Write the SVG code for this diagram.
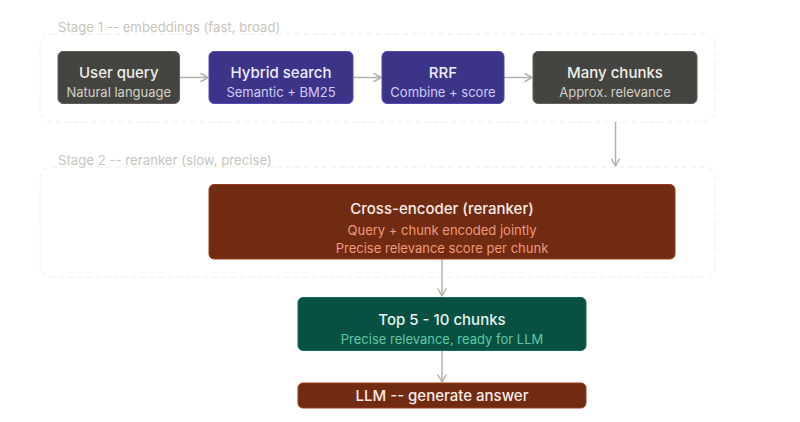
<svg xmlns="http://www.w3.org/2000/svg" width="800" height="422" viewBox="0 0 800 422">
<defs>
<marker id="arr" viewBox="0 0 10 10" refX="8" refY="5" markerWidth="10" markerHeight="10" markerUnits="userSpaceOnUse" orient="auto-start-reverse">
<path d="M1 1 L8 5 L1 9" fill="none" stroke="#b4b2a9" stroke-width="1.5" stroke-linecap="round" stroke-linejoin="round"/>
</marker>
<style>
text{font-family:Inter,"Liberation Sans",sans-serif;text-anchor:middle}
.stage{fill:none;stroke:#efeee9;stroke-width:1;stroke-dasharray:5 4}
.slab{font-size:13.2px;fill:#c8c6bd;text-anchor:start}
.t{font-size:15px;font-weight:500}
.s{font-size:13px}
.gray rect{fill:#444441;stroke:#5f5e5a}
.gray .t{fill:#f1efe8}.gray .s{fill:#d3d1c7}
.purple rect{fill:#3c3489;stroke:#534ab7}
.purple .t{fill:#eeedfe}.purple .s{fill:#cecbf6}
.brown rect{fill:#712b13;stroke:#993c1d}
.brown .t{fill:#faece7}.brown .s{fill:#f0997b}
.green rect{fill:#085041;stroke:#0f6e56}
.green .t{fill:#e1f5ee}.green .s{fill:#5dcaa5}
.conn line{stroke:#b4b2a9;stroke-width:1.5;fill:none;marker-end:url(#arr)}
</style>
</defs>
<rect width="800" height="422" fill="#ffffff"/>
<g id="stage1">
<rect class="stage" x="40" y="34" width="675" height="88" rx="12"/>
<text class="slab" x="58" y="31.5">Stage 1 -- embeddings (fast, broad)</text>
</g>
<g id="stage2">
<rect class="stage" x="40" y="167" width="675" height="110" rx="12"/>
<text class="slab" x="58" y="164.5">Stage 2 -- reranker (slow, precise)</text>
</g>
<g id="conn" class="conn">
<line x1="180" y1="77.5" x2="208" y2="77.5"/>
<line x1="353" y1="77.5" x2="381" y2="77.5"/>
<line x1="504" y1="77.5" x2="532" y2="77.5"/>
<line x1="615.5" y1="122" x2="615.5" y2="166"/>
<line x1="442" y1="259" x2="442" y2="296"/>
<line x1="442" y1="351" x2="442" y2="382"/>
</g>
<g id="user-query" class="gray">
<rect x="58" y="51.5" width="121.5" height="52" rx="5"/>
<text class="t" x="118.75" y="78">User query</text>
<text class="s" x="118.75" y="97">Natural language</text>
</g>
<g id="hybrid-search" class="purple">
<rect x="209" y="51.5" width="144" height="52" rx="5"/>
<text class="t" x="281" y="78">Hybrid search</text>
<text class="s" x="281" y="97">Semantic + BM25</text>
</g>
<g id="rrf" class="purple">
<rect x="382" y="51.5" width="122" height="52" rx="5"/>
<text class="t" x="443" y="78">RRF</text>
<text class="s" x="443" y="97">Combine + score</text>
</g>
<g id="many-chunks" class="gray">
<rect x="533" y="51.5" width="164" height="52" rx="5"/>
<text class="t" x="615" y="78">Many chunks</text>
<text class="s" x="615" y="97">Approx. relevance</text>
</g>
<g id="cross-encoder" class="brown">
<rect x="209" y="184.5" width="466" height="74.5" rx="5"/>
<text class="t" x="442" y="213.5">Cross-encoder (reranker)</text>
<text class="s" x="442" y="235">Query + chunk encoded jointly</text>
<text class="s" x="442" y="252.5">Precise relevance score per chunk</text>
</g>
<g id="top-chunks" class="green">
<rect x="298" y="297.5" width="288" height="53" rx="5"/>
<text class="t" x="442" y="325">Top 5 - 10 chunks</text>
<text class="s" x="442" y="343.5">Precise relevance, ready for LLM</text>
</g>
<g id="llm" class="brown">
<rect x="298" y="383" width="288" height="25" rx="5"/>
<text class="t" x="442" y="401">LLM -- generate answer</text>
</g>
</svg>
